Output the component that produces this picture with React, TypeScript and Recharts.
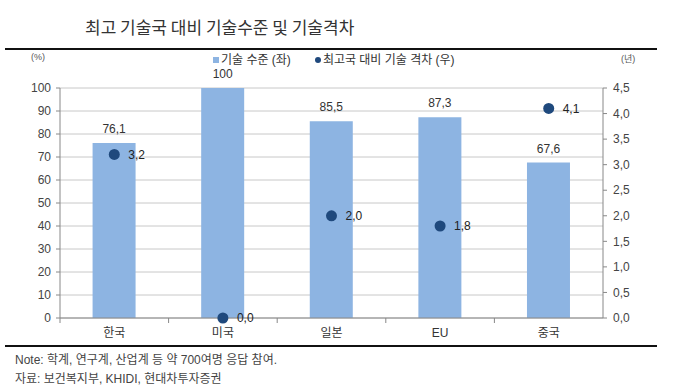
import React from "react";
import {
  ComposedChart,
  Bar,
  Line,
  XAxis,
  YAxis,
  CartesianGrid,
  LabelList,
} from "recharts";

const countries = ["한국", "미국", "일본", "EU", "중국"];
const techLevel = [76.1, 100, 85.5, 87.3, 67.6];
const techGap = [3.2, 0.0, 2.0, 1.8, 4.1];
const leftTicks = [0, 10, 20, 30, 40, 50, 60, 70, 80, 90, 100];
const rightTicks = [0, 0.5, 1, 1.5, 2, 2.5, 3, 3.5, 4, 4.5];

const data = countries.map((name, i) => ({
  name,
  level: techLevel[i],
  gap: techGap[i],
}));

const FONT = "'Liberation Sans', 'Noto Sans CJK KR', sans-serif";
const BAR_COLOR = "#8DB4E2";
const DOT_COLOR = "#1F497D";
const PLOT_W = 543;

const comma = (v: any) => String(v).replace(".", ",");
const comma1 = (v: any) => Number(v).toFixed(1).replace(".", ",");

function CategoryTick(props: any) {
  const { x, y, payload } = props;
  const band = PLOT_W / countries.length;
  return (
    <g>
      <line x1={x - band / 2} x2={x - band / 2} y1={y} y2={y + 5} stroke="#888" />
      <text
        x={x}
        y={y + 15}
        textAnchor="middle"
        dominantBaseline="central"
        fontSize={12}
        fill="#333"
        fontFamily={FONT}
      >
        {payload.value}
      </text>
    </g>
  );
}

export default function App() {
  return (
    <div
      style={{
        position: "absolute",
        left: 0,
        top: 0,
        width: 680,
        height: 388,
        background: "#fff",
        fontFamily: FONT,
        color: "#333",
      }}
    >
      <div style={{ position: "absolute", left: 85, top: 15, fontSize: 17, fontFamily: "'Noto Sans CJK KR', sans-serif", color: "#333", lineHeight: "24px" }}>
        최고 기술국 대비 기술수준 및 기술격차
      </div>
      <div style={{ position: "absolute", left: 5, top: 48, width: 652, height: 2, background: "#111" }} />
      <div style={{ position: "absolute", left: 31, top: 52, fontSize: 9, color: "#555" }}>(%)</div>
      <div style={{ position: "absolute", left: 621, top: 52, fontSize: 9, color: "#555" }}>(년)</div>
      <div style={{ position: "absolute", left: 213, top: 52, fontSize: 12, display: "flex", alignItems: "center", lineHeight: "16px", color: "#333" }}>
        <span style={{ display: "inline-block", width: 6, height: 6, background: BAR_COLOR, marginRight: 2 }} />
        <span>기술 수준 (좌)</span>
        <span style={{ display: "inline-block", width: 6, height: 6, borderRadius: 3, background: DOT_COLOR, marginLeft: 24, marginRight: 2 }} />
        <span>최고국 대비 기술 격차 (우)</span>
      </div>

      <ComposedChart
        width={680}
        height={388}
        data={data}
        margin={{ top: 88, right: 0, bottom: 40, left: 0 }}
        barCategoryGap="30%"
        style={{ position: "absolute", left: 0, top: 0 }}
      >
        <CartesianGrid vertical={false} stroke="#c8c8c8" yAxisId="left" />
        <XAxis
          dataKey="name"
          height={30}
          tickSize={0}
          tickMargin={0}
          tickLine={false}
          axisLine={{ stroke: "#888" }}
          tick={<CategoryTick />}
          interval={0}
        />
        <YAxis
          yAxisId="left"
          width={60}
          domain={[0, 100]}
          ticks={leftTicks}
          interval={0}
          tickSize={4}
          tickMargin={5}
          axisLine={{ stroke: "#888" }}
          tickLine={{ stroke: "#888" }}
          tick={{ fontSize: 12, fill: "#444", fontFamily: FONT }}
        />
        <YAxis
          yAxisId="right"
          orientation="right"
          width={77}
          domain={[0, 4.5]}
          ticks={rightTicks}
          interval={0}
          tickSize={4}
          tickMargin={6}
          tickFormatter={comma1}
          axisLine={{ stroke: "#888" }}
          tickLine={{ stroke: "#888" }}
          tick={{ fontSize: 12, fill: "#444", fontFamily: FONT }}
        />
        <Bar yAxisId="left" dataKey="level" fill={BAR_COLOR} isAnimationActive={false}>
          <LabelList
            dataKey="level"
            position="top"
            offset={10}
            formatter={comma}
            style={{ fontSize: 12, fill: "#333", fontFamily: FONT }}
          />
        </Bar>
        <Line
          yAxisId="right"
          dataKey="gap"
          stroke="none"
          dot={{ r: 5.5, fill: DOT_COLOR, stroke: "none" }}
          activeDot={false}
          isAnimationActive={false}
        >
          <LabelList
            dataKey="gap"
            position="right"
            offset={14}
            formatter={comma1}
            style={{ fontSize: 12, fill: "#222", fontFamily: FONT }}
          />
        </Line>
      </ComposedChart>

      <div style={{ position: "absolute", left: 5, top: 345, width: 652, height: 2, background: "#111" }} />
      <div style={{ position: "absolute", left: 15, top: 351, fontSize: 12, color: "#444", lineHeight: "19px" }}>
        Note: 학계, 연구계, 산업계 등 약 700여명 응답 참여.
        <br />
        자료: 보건복지부, KHIDI, 현대차투자증권
      </div>
    </div>
  );
}
